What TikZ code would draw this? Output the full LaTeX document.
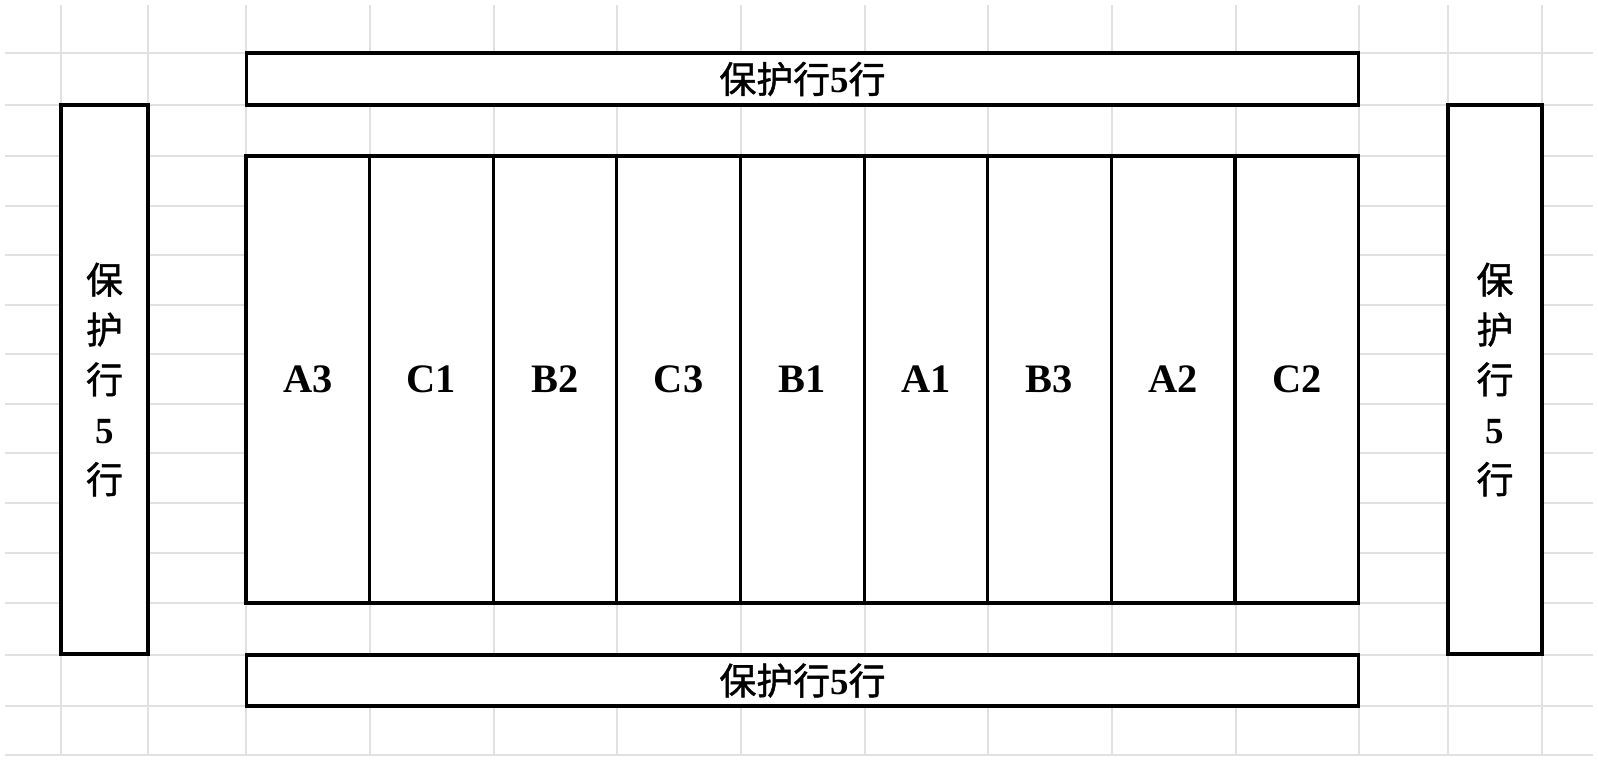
\documentclass[tikz,border=0pt]{standalone}
\usepackage{fontspec}
\setmainfont{Liberation Serif}
\newfontfamily\cjk[FakeBold=1.2]{Noto Sans CJK SC}
\usetikzlibrary{positioning}
\definecolor{sheetGrid}{RGB}{225,225,225}
\tikzset{
    gridline/.style={draw=sheetGrid, line width=0.85pt},
    guard/.style={rectangle, draw, fill=white, line width=1.8pt,
                  inner sep=0pt, outer sep=0pt,
                  font=\cjk\fontsize{21}{28.4}\selectfont},
    plot/.style={rectangle, draw, fill=white, line width=1.8pt,
                 inner sep=0pt, outer sep=0pt,
                 minimum width=2.473cm, minimum height=8.94cm,
                 font=\bfseries\fontsize{23}{27}\selectfont}
}
\newcommand{\five}{{\rmfamily\bfseries 5}}

\begin{document}
\begin{tikzpicture}[x=0.02cm, y=-0.02cm]
  \useasboundingbox (0,0) rectangle (1598,760);

  % spreadsheet grid
  \foreach \x in {61,148,246,370,494,617,741,865,988,1112,1236,1359,1448,1542}
    \draw[gridline] (\x,5) -- (\x,755);
  \foreach \y in {53,105,156,206,255,305,354,404,453,503,553,603,655,706,755}
    \draw[gridline] (5,\y) -- (1593,\y);

  % plots
  \node [plot] (P1) at (307.8,379.5) {A3};
  \node [plot, right=0pt of P1] (P2) {C1};
  \node [plot, right=0pt of P2] (P3) {B2};
  \node [plot, right=0pt of P3] (P4) {C3};
  \node [plot, right=0pt of P4] (P5) {B1};
  \node [plot, right=0pt of P5] (P6) {A1};
  \node [plot, right=0pt of P6] (P7) {B3};
  \node [plot, right=0pt of P7] (P8) {A2};
  \node [plot, right=0pt of P8] (P9) {C2};

  % guard rows
  \node [guard, minimum width=22.26cm, minimum height=1.04cm] (top) at (802.5,79) {保护行\five 行};
  \node [guard, minimum width=22.26cm, minimum height=1.02cm] (bottom) at (802.5,680.5) {保护行\five 行};
  \node [guard, minimum width=1.74cm, minimum height=10.98cm, align=center] (left) at (104.5,379.5) {保\\护\\行\\\five\\行};
  \node [guard, minimum width=1.88cm, minimum height=10.98cm, align=center] (right) at (1495,379.5) {保\\护\\行\\\five\\行};
\end{tikzpicture}
\end{document}
